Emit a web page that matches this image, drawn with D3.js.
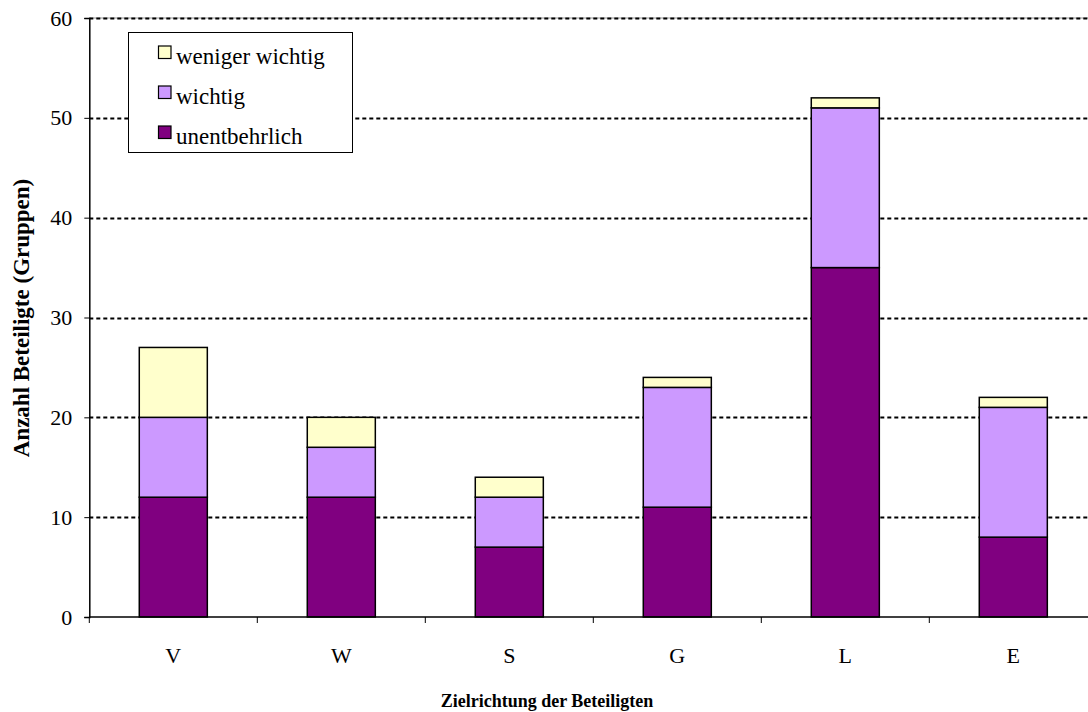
<!DOCTYPE html>
<html><head><meta charset="utf-8">
<script src="https://cdn.jsdelivr.net/npm/d3@7"></script>
<style>body{margin:0;background:#fff}svg{display:block}</style>
</head><body>
<svg id="c" width="1088" height="712"></svg>
<script>
const categories = ["V","W","S","G","L","E"];
const unentbehrlich = [12,12,7,11,35,8];
const wichtig = [8,5,5,12,16,13];
const wenigerWichtig = [7,3,2,1,1,1];
const seriesNames = ["unentbehrlich","wichtig","weniger wichtig"];
const seriesColors = ["#800080","#CC99FF","#FFFFCC"];
const yTicks = [0,10,20,30,40,50,60];

(function(){
const svg = d3.select("#c");
const font = "'Liberation Serif','Times New Roman',serif";
const x0 = 89.3, bandW = 168, plotTop = 18, plotBottom = 617;
const x = d3.scaleBand().domain(categories).range([x0, x0 + bandW*categories.length]).paddingInner(0.595).paddingOuter(0.2975);
const y = d3.scaleLinear().domain([0,60]).range([plotBottom, plotTop]);

const rows = categories.map((c,i)=>({cat:c, unentbehrlich:unentbehrlich[i], wichtig:wichtig[i], "weniger wichtig":wenigerWichtig[i]}));
const stack = d3.stack().keys(seriesNames)(rows);

svg.append("line").attr("x1",x0).attr("x2",1088).attr("y1",y(60)).attr("y2",y(60)).attr("stroke","#999").attr("stroke-width",1);
svg.append("g").selectAll("line").data(yTicks.filter(t=>t>0)).join("line")
  .attr("x1",x0).attr("x2",1088).attr("y1",d=>Math.round(y(d))+0.5).attr("y2",d=>Math.round(y(d))+0.5)
  .attr("stroke","#000").attr("stroke-width",2).attr("stroke-dasharray","4,3");

svg.append("g").selectAll("g").data(stack).join("g").attr("fill",(d,i)=>seriesColors[i])
  .selectAll("rect").data(d=>d).join("rect")
  .attr("x",d=>x(d.data.cat)).attr("width",x.bandwidth())
  .attr("y",d=>y(d[1])).attr("height",d=>y(d[0])-y(d[1]))
  .attr("stroke","#000").attr("stroke-width",1.5);

const ya = svg.append("g").attr("transform",`translate(${x0},0)`)
  .call(d3.axisLeft(y).tickValues(yTicks).tickSize(5).tickPadding(12));
ya.select(".domain").attr("stroke","#000").attr("stroke-width",1.5);
ya.selectAll("text").attr("font-family",font).attr("font-size",22).attr("fill","#000");

const xa = svg.append("g").attr("transform",`translate(0,${plotBottom})`);
xa.append("line").attr("x1",x0).attr("x2",1088).attr("y1",0).attr("y2",0).attr("stroke","#000").attr("stroke-width",1.5);
xa.selectAll("line.t").data(d3.range(categories.length+1)).join("line").attr("class","t")
  .attr("x1",i=>x0+i*bandW).attr("x2",i=>x0+i*bandW).attr("y1",0).attr("y2",6).attr("stroke","#000").attr("stroke-width",1);
xa.selectAll("text").data(categories).join("text")
  .attr("x",d=>x(d)+x.bandwidth()/2).attr("y",46).attr("text-anchor","middle")
  .attr("font-family",font).attr("font-size",22).text(d=>d);

svg.append("text").attr("x",547).attr("y",707).attr("text-anchor","middle")
  .attr("font-family",font).attr("font-size",18).attr("font-weight","bold").text("Zielrichtung der Beteiligten");
svg.append("text").attr("transform",`translate(29,318) rotate(-90)`).attr("text-anchor","middle")
  .attr("font-family",font).attr("font-size",23).attr("font-weight","bold").text("Anzahl Beteiligte (Gruppen)");

const lg = svg.append("g");
lg.append("rect").attr("x",128.5).attr("y",32.5).attr("width",224).attr("height",120).attr("fill","#fff").attr("stroke","#000").attr("stroke-width",1);
[2,1,0].forEach((si,j)=>{
  const cy = 52 + j*40;
  lg.append("rect").attr("x",158.5).attr("y",cy-6).attr("width",12.5).attr("height",12.5).attr("fill",seriesColors[si]).attr("stroke","#000").attr("stroke-width",1.2);
  lg.append("text").attr("x",176).attr("y",cy+11.5).attr("font-family",font).attr("font-size",23).text(seriesNames[si]);
});
})();
</script>
</body></html>
